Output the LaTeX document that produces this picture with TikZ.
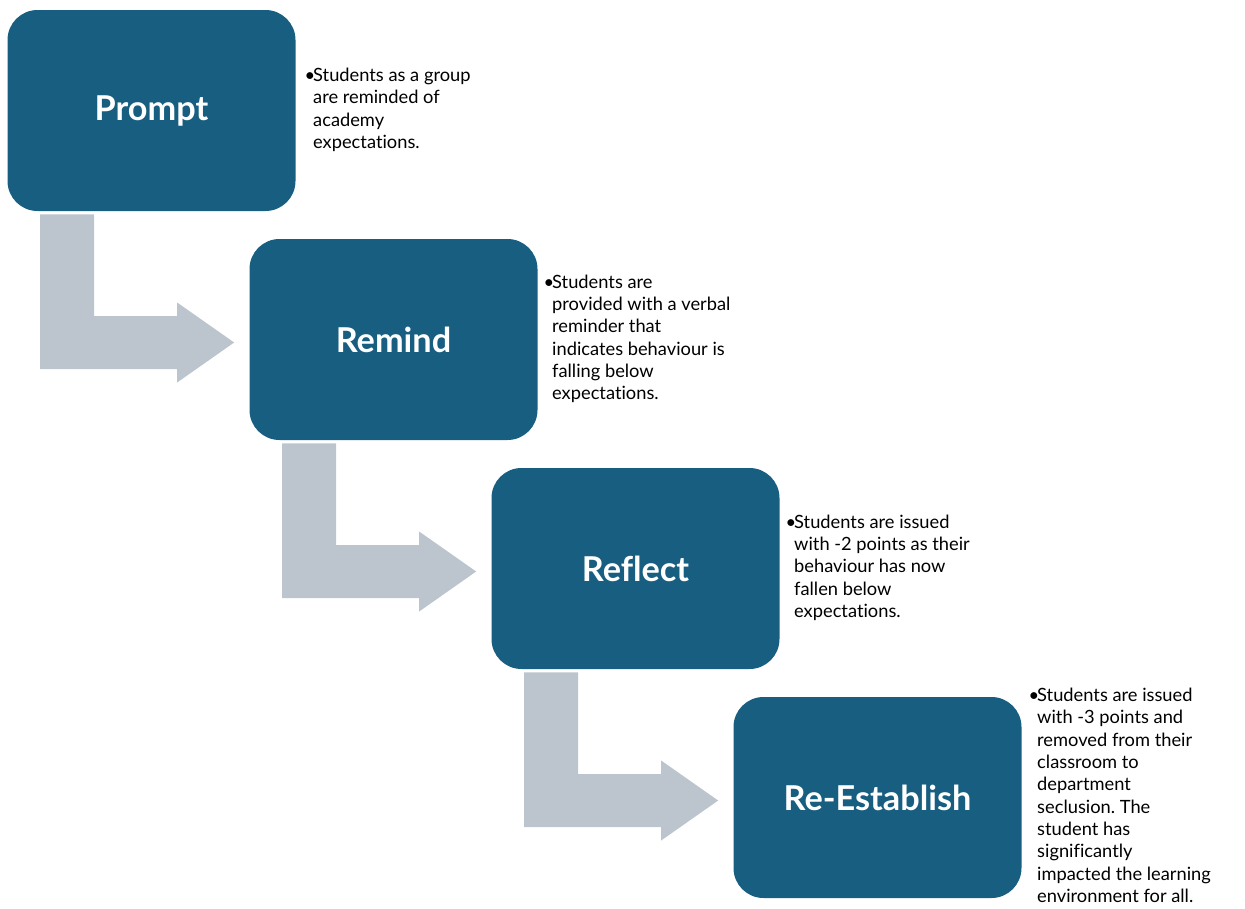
\documentclass[tikz,border=0pt]{standalone}
\usepackage{fontspec}
\setmainfont{Lato}[Ligatures=NoCommon]
\usepackage{tikz}
\usetikzlibrary{positioning,calc}
\usepackage{xcolor}
\definecolor{boxblue}{HTML}{185E80}
\definecolor{arrowgray}{HTML}{BCC4CD}
\frenchspacing
\newcommand{\bul}[1]{\begin{tabular}{@{}p{0.17cm}@{}l@{}}\textbullet&\begin{tabular}[t]{@{}l@{}}#1\end{tabular}\end{tabular}}

\begin{document}
\begin{tikzpicture}[node distance=2cm,on grid,
   stage/.style={fill=boxblue,rounded corners=0.6cm,minimum width=5.76cm,minimum height=4.02cm,
      text=white,font=\fontsize{19.5}{22}\selectfont\bfseries},
   note/.style={anchor=west,inner sep=0pt,font=\fontsize{10.4}{12.7}\selectfont}]
   \useasboundingbox (0,0) rectangle (24.9,-18.18);
   \node[stage] (prompt) at (3.03,-2.21) {Prompt};
   \node[stage] (remind) [below right=4.58cm and 4.84cm of prompt] {Remind};
   \node[stage] (reflect) [below right=4.58cm and 4.84cm of remind] {Reflect};
   \node[stage] (reestablish) [below right=4.58cm and 4.84cm of reflect] {Re-Establish};
   \node[note] (prompt_txt) at ($(prompt.east)+(0.17,0)$)
      {\bul{Students as a group\\are reminded of\\academy\\expectations.}};
   \node[note] (remind_txt) at ($(remind.east)+(0.11,0)$)
      {\bul{Students are\\provided with a verbal\\reminder that\\indicates behaviour is\\falling below\\expectations.}};
   \node[note] (reflect_txt) at ($(reflect.east)+(0.11,0)$)
      {\bul{Students are issued\\with -2 points as their\\behaviour has now\\fallen below\\expectations.}};
   \node[note] (reestablish_txt) at ($(reestablish.east)+(0.13,0)$)
      {\bul{Students are issued\\with -3 points and\\removed from their\\classroom to\\department\\seclusion. The\\student has\\significantly\\impacted the learning\\environment for all.}};
   % bent arrows between the stages
   \foreach \a/\b in {prompt/remind,remind/reflect,reflect/reestablish}{
      \coordinate (s) at ($(\a.south west)+(0.66,-0.06)$);
      \coordinate (t) at ($(\b.west)+(-0.3,-0.06)$);
      \fill[arrowgray] (s) -- ++(1.08,0) |- ($(t)+(-1.14,0.53)$) -- ++(0,0.27) -- (t)
         -- ($(t)+(-1.14,-0.8)$) -- ++(0,0.27) -| (s) -- cycle;
   }
\end{tikzpicture}
\end{document}
